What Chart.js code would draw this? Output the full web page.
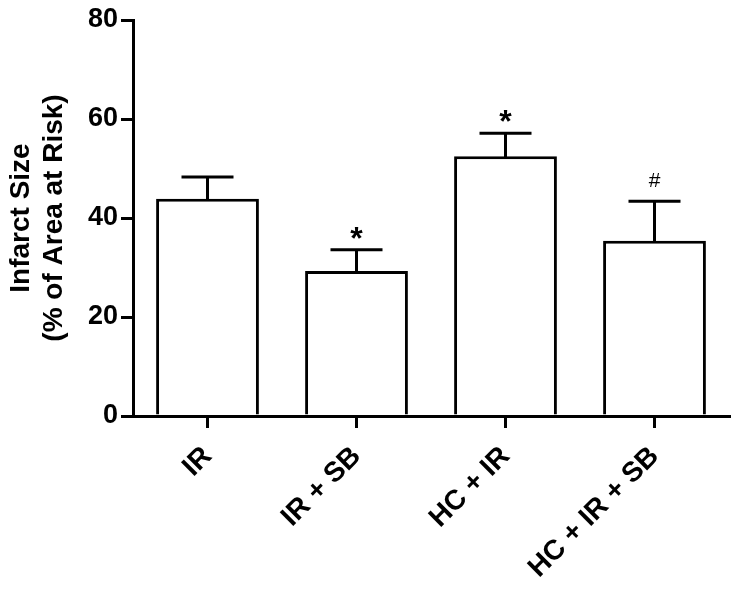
<!DOCTYPE html>
<html>
<head>
<meta charset="utf-8">
<script src="https://cdn.jsdelivr.net/npm/chart.js@4"></script>
<style>
  body { margin: 0; background: #fff; }
  #wrap { width: 739px; height: 596px; }
</style>
</head>
<body>
<div id="wrap"><canvas id="barChart" width="739" height="596"></canvas></div>
<script>
const groups = ["IR", "IR + SB", "HC + IR", "HC + IR + SB"];
const infarctMean = [43.9, 29.3, 52.5, 35.4];
const infarctSem = [4.4, 4.3, 4.6, 8.0];
const sigMarks = ["", "*", "*", "#"];
const yTicks = [0, 20, 40, 60, 80];

const fontFam = '"Liberation Sans", Arial, Helvetica, sans-serif';

// error bars + significance marks drawn on top of the bars
const errorBars = {
  id: "errorBars",
  afterDatasetsDraw(chart) {
    const ctx = chart.ctx;
    const yScale = chart.scales.y;
    const meta = chart.getDatasetMeta(0);
    ctx.save();
    ctx.strokeStyle = "#000";
    ctx.fillStyle = "#000";
    ctx.lineWidth = 3;
    meta.data.forEach(function (bar, i) {
      const x = bar.x;
      const yTop = yScale.getPixelForValue(infarctMean[i]);
      const yCap = yScale.getPixelForValue(infarctMean[i] + infarctSem[i]);
      ctx.beginPath();
      ctx.moveTo(x, yTop + 1);
      ctx.lineTo(x, yCap);
      ctx.moveTo(x - 26, yCap);
      ctx.lineTo(x + 26, yCap);
      ctx.stroke();

      const mark = sigMarks[i];
      if (mark) {
        const isStar = mark === "*";
        ctx.font = (isStar ? "bold 32px " : "21px ") + fontFam;
        ctx.textAlign = "center";
        ctx.textBaseline = "alphabetic";
        const m = ctx.measureText(mark);
        const cy = yCap - (isStar ? 17 : 21);
        const mid = (m.actualBoundingBoxAscent - m.actualBoundingBoxDescent) / 2;
        ctx.fillText(mark, x, cy + mid);
      }
    });
    ctx.restore();
  }
};

const ctx = document.getElementById("barChart").getContext("2d");
new Chart(ctx, {
  type: "bar",
  data: {
    labels: groups,
    datasets: [
      {
        data: infarctMean,
        backgroundColor: "#ffffff",
        borderColor: "#000000",
        borderWidth: 3,
        barPercentage: 0.69,
        categoryPercentage: 1,
      },
    ],
  },
  options: {
    responsive: false,
    animation: false,
    devicePixelRatio: 1,
    layout: {
      padding: { top: 20, right: 10, bottom: 0, left: 0 },
    },
    plugins: {
      legend: { display: false },
      tooltip: { enabled: false },
    },
    scales: {
      x: {
        offset: true,
        grid: {
          offset: false,
          drawOnChartArea: false,
          drawTicks: true,
          tickLength: 12,
          lineWidth: 3,
          color: "#000",
        },
        border: { display: true, width: 3, color: "#000" },
        ticks: {
          color: "#000",
          font: { family: fontFam, size: 28, weight: "bold" },
          maxRotation: 45,
          minRotation: 45,
          padding: 12,
        },
        afterFit: function (scale) {
          scale.height = 180;
        },
      },
      y: {
        min: 0,
        max: 80,
        afterBuildTicks: function (scale) {
          scale.ticks = yTicks.map(function (v) { return { value: v }; });
        },
        grid: {
          drawOnChartArea: false,
          drawTicks: true,
          tickLength: 12,
          lineWidth: 3,
          color: "#000",
        },
        border: { display: true, width: 3, color: "#000" },
        ticks: {
          color: "#000",
          font: { family: fontFam, size: 27, weight: "bold" },
          padding: 3,
        },
        title: {
          display: true,
          text: ["Infarct Size", "(% of Area at Risk)"],
          color: "#000",
          font: { family: fontFam, size: 28, weight: "bold", lineHeight: 1.18 },
          padding: { top: 5, bottom: 0 },
        },
        afterFit: function (scale) {
          scale.width = 133;
        },
      },
    },
  },
  plugins: [errorBars],
});
</script>
</body>
</html>
